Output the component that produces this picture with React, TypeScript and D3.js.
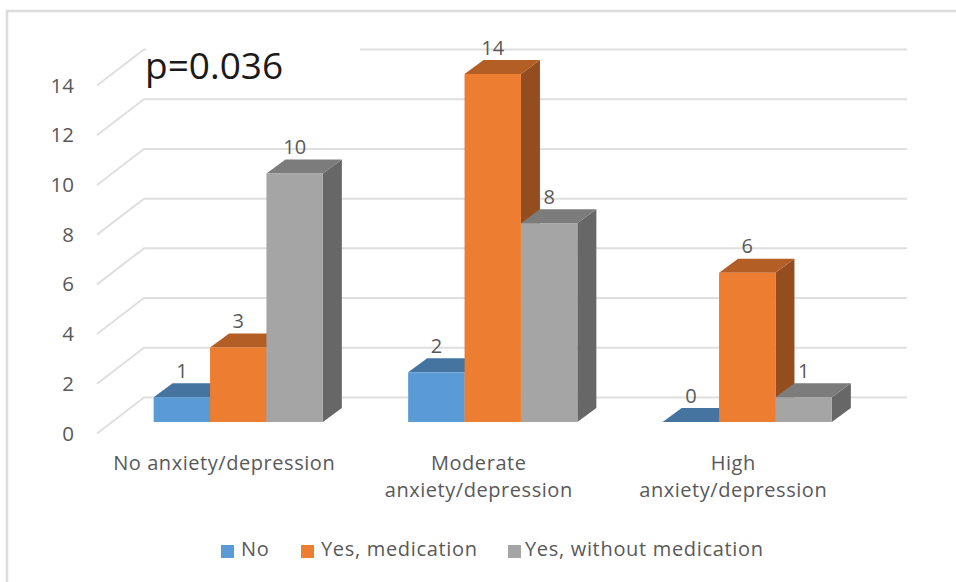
import React from "react";
import * as d3 from "d3";

const categories = [["No anxiety/depression"], ["Moderate", "anxiety/depression"], ["High", "anxiety/depression"]];
const seriesNames = ["No", "Yes, medication", "Yes, without medication"];
const noValues = [1, 2, 0];
const medicationValues = [3, 14, 6];
const withoutMedicationValues = [10, 8, 1];
const yTicks = [0, 2, 4, 6, 8, 10, 12, 14];
const seriesValues = [noValues, medicationValues, withoutMedicationValues];

const front = ["#5b9bd5", "#ed7d31", "#a5a5a5"];
const topFace = ["#44749f", "#b35e25", "#7c7c7c"];
const sideFace = ["#3d6a92", "#934d1f", "#676767"];
const FONT = "'Open Sans', sans-serif";
const TEXT = "#595959";

// Oblique offsets used for the pseudo-3D projection
const barDepth = { x: 19, y: -14 };
const wallOffset = { x: 47, y: -36 };

export default function App() {
  const y = d3.scaleLinear().domain([0, 14]).range([422, 74]);
  const xGroup = d3.scaleBand<number>().domain([0, 1, 2]).range([111, 874.5]).paddingInner(0).paddingOuter(0);
  const groupCenter = (i: number) => xGroup(i)! + xGroup.bandwidth() / 2;
  const xBar = d3.scaleBand<number>().domain([0, 1, 2]).range([-84.6, 84.6]);
  const floorY = (v: number) => y(v) + 11.5;
  const line = d3.line();

  return (
    <svg width={956} height={582} style={{ position: "absolute", left: 0, top: 0, background: "#fff" }} fontFamily={FONT}>
      {/* Chart frame: only the top and left edges fall inside the canvas */}
      <path d={line([[7, 582], [7, 11], [956, 11]])!} fill="none" stroke="#dcdcdc" strokeWidth={2.5} />

      {yTicks.map((t) => {
        const fy = floorY(t);
        const wy = fy + wallOffset.y;
        return (
          <g key={t}>
            <path
              d={line([[97, fy], [97 + wallOffset.x, wy], [907, wy]])!}
              fill="none"
              stroke="#dfdfdf"
              strokeWidth={2}
            />
            <text x={74} y={fy + 7} textAnchor="end" fontSize={20.5} fill={TEXT}>{t}</text>
          </g>
        );
      })}

      <rect x={146} y={36} width={214} height={45} fill="#fff" />
      <text x={145} y={79} fontSize={37} fill="#1a1a1a">p=0.036</text>

      {categories.map((lines, c) => (
        <g key={c}>
          {seriesNames.map((_, s) => {
            const v = seriesValues[s][c];
            const x0 = groupCenter(c) + xBar(s)!;
            const w = xBar.bandwidth();
            const top = y(v);
            const base = y(0);
            const dx = barDepth.x;
            const dy = barDepth.y;
            return (
              <g key={s}>
                <path d={line([[x0 + w, top], [x0 + w + dx, top + dy], [x0 + w + dx, base + dy], [x0 + w, base]])! + "Z"} fill={sideFace[s]} />
                <path d={line([[x0, top], [x0 + dx, top + dy], [x0 + w + dx, top + dy], [x0 + w, top]])! + "Z"} fill={topFace[s]} />
                {v > 0 && <rect x={x0} y={top} width={w} height={base - top} fill={front[s]} />}
                <text x={x0 + w / 2} y={top + dy - 5.5} textAnchor="middle" fontSize={20} fill={TEXT}>{v}</text>
              </g>
            );
          })}
          {lines.map((l, i) => (
            <text key={i} x={groupCenter(c) - 14} y={470 + i * 27} textAnchor="middle" fontSize={20} letterSpacing={0.55} fill={TEXT}>{l}</text>
          ))}
        </g>
      ))}

      {seriesNames.map((n, s) => {
        const lx = [221, 301, 508][s];
        const tx = [241, 321, 525][s];
        return (
          <g key={n}>
            <rect x={lx} y={545} width={13} height={13} fill={front[s]} />
            <text x={tx} y={556} fontSize={20} letterSpacing={0.68} fill={TEXT}>{n}</text>
          </g>
        );
      })}
    </svg>
  );
}
